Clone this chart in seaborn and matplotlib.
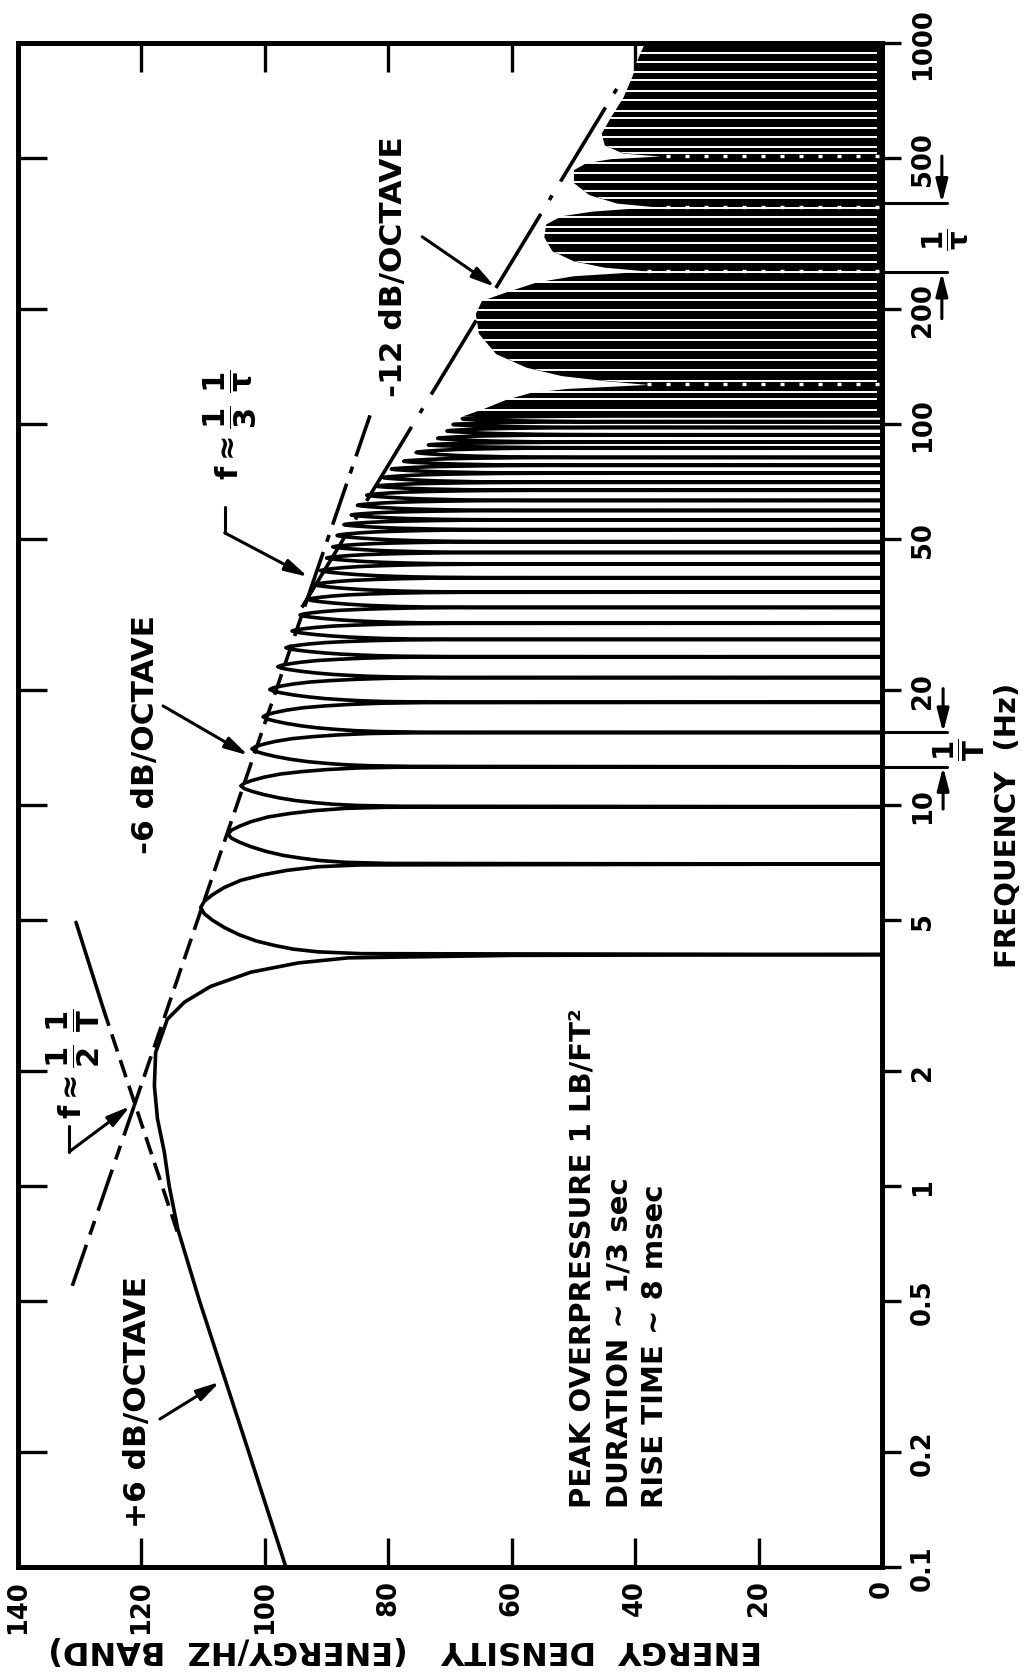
import numpy as np
import pandas as pd
import matplotlib
matplotlib.use("Agg")
import matplotlib.pyplot as plt
from matplotlib.ticker import NullLocator, FixedLocator
import seaborn as sns

# ----------------------------- data -----------------------------
freq_ticks = [0.1, 0.2, 0.5, 1, 2, 5, 10, 20, 50, 100, 200, 500, 1000]
freq_tick_labels = ["0.1", "0.2", "0.5", "1", "2", "5", "10", "20", "50", "100", "200", "500", "1000"]
energy_ticks = [0, 20, 40, 60, 80, 100, 120, 140]
energy_tick_labels = ["0", "20", "40", "60", "80", "100", "120", "140"]

# first (low-frequency) lobe of the spectrum
main_lobe_f = [0.1, 0.2, 0.5, 0.77, 1.0, 1.23, 1.5, 1.83, 2.24, 2.74, 3.04, 3.34, 3.64, 3.85, 3.97, 4.03, 4.05]
main_lobe_E = [96.6, 102.6, 110.6, 114.1, 115.5, 116.3, 117.4, 117.9, 117.7, 115.8, 113.0, 108.8, 102.3, 94.6, 86.5, 60.0, 0.0]

# nulls of the fine structure (Hz) and the level of each lobe between them
lobe_nulls_f = [4.05, 7.0, 9.9, 12.6, 15.5, 18.6, 21.6, 24.5, 27.2, 30.0, 33.0, 36.2, 39.5, 42.9,
                46.0, 49.1, 52.8, 56.0, 59.3, 63.0, 67.0, 70.3, 74.3, 77.9, 81.7, 86.6, 89.6,
                93.7, 97.9, 101.4, 105.0]
lobe_peaks_E = [110.4, 106.0, 103.9, 102.1, 100.3, 99.2, 97.9, 96.6, 95.6, 94.3, 93.0, 92.0, 91.0,
                90.0, 89.0, 88.3, 87.2, 86.0, 85.0, 83.5, 82.0, 80.8, 79.5, 77.5, 75.5, 73.5, 72.0,
                70.5, 69.5, 68.0]

# outline of one lobe: position between its nulls (fraction of log-width) and dB below its top
lobe_shape_frac = [0.0, 0.01, 0.03, 0.06, 0.1, 0.15, 0.22, 0.3, 0.38, 0.45, 0.52,
                   0.59, 0.66, 0.74, 0.82, 0.88, 0.93, 0.97, 0.99, 1.0]
lobe_shape_drop = [1e9, 26, 19, 15, 12, 9, 6.2, 3.8, 1.9, 0.6, 0,
                   0.6, 1.9, 3.8, 6.5, 10, 14, 19, 26, 1e9]

# high-frequency envelope (dense fine structure, modulated by the rise time)
hf_env_f = [105, 110, 116, 121, 124, 127, 130, 134, 141, 153, 173, 195, 211, 222, 236, 245, 252, 258,
            268, 285, 310, 335, 352, 362, 372, 380, 400, 430, 465, 485, 497, 505, 514, 540, 580, 640,
            720, 820, 920, 1000]
hf_env_E = [68, 64.5, 61, 57, 51, 38, 45, 52, 57.7, 62.6, 65.4, 65.9, 64.9, 61, 56, 50, 38, 45,
            50, 53.5, 54.8, 54.5, 52, 47, 37, 43, 47.5, 50, 50, 48, 44, 36, 42, 45, 45.5, 44,
            42, 40.5, 39.5, 38.5]
# visible white gaps inside the dense region (Hz)
hf_gap_f = [109, 116, 121, 130, 139, 147, 156, 166, 176, 187, 199, 211, 224, 236, 250, 266, 281, 298,
            317, 328, 349, 368, 391, 410, 431, 455, 483, 513, 532, 565, 597, 634, 665, 707, 750, 798,
            837, 889, 944]
# rise-time nulls (rows of white dots)
rise_null_f = [127, 252, 372, 505]
rise_null_E = [38, 38, 37, 36]

# asymptotes
pos6_dash_f = [0.76, 2.86]
pos6_dash_E = [114.2, 126.0]
pos6_solid_f = [2.86, 4.92]
pos6_solid_E = [126.0, 130.6]
neg6_lo_f = [0.547, 1.62]
neg6_lo_E = [131.2, 121.2]
neg6_mid_f = [1.62, 36.0]
neg6_mid_E = [121.2, 92.8]
neg6_hi_f = [36.0, 112.0]
neg6_hi_E = [92.8, 82.4]
neg12_f = [33.0, 790.0]
neg12_E = [94.0, 42.3]

# period markers on the frequency axis
period_T_f = [12.6, 15.5]
period_tau_f = [250.0, 380.0]

# ----------------------------- style -----------------------------
sns.set_theme(style="white", rc={"axes.edgecolor": "black", "text.color": "black",
                                 "xtick.color": "black", "ytick.color": "black",
                                 "axes.labelcolor": "black"})
plt.rcParams["font.family"] = ["DejaVu Sans"]
plt.rcParams["mathtext.fontset"] = "custom"
plt.rcParams["mathtext.rm"] = "DejaVu Sans:bold"
plt.rcParams["mathtext.it"] = "DejaVu Sans:bold"
plt.rcParams["mathtext.bf"] = "DejaVu Sans:bold"

W, H = 1026, 1674
fig = plt.figure(figsize=(W / 100, H / 100), dpi=100)
fig.patch.set_facecolor("white")
ax = fig.add_axes([18 / W, 1 - 1568 / H, 864 / W, 1524 / H])
ax.set_facecolor("white")
ax.set_yscale("log")
ax.set_xlim(140, 0)
ax.set_ylim(0.1, 1000)

LW = 2.6

# dense high-frequency region
hf = ax.fill_betweenx(hf_env_f, 0, hf_env_E, color="black", lw=0, zorder=2)
gaps = ax.hlines(hf_gap_f, 0.8, 140, colors="white", lw=1.4, zorder=3)
gaps.set_clip_path(hf.get_paths()[0], hf.get_transform())
ax.hlines(rise_null_f, 0.5, rise_null_E, colors="white", lw=2.4,
          linestyles=[(0, (1.2, 4.5))], zorder=3)

# spectrum with its fine structure
spec_f = list(main_lobe_f)
spec_E = list(main_lobe_E)
for lo, hi, pk in zip(lobe_nulls_f[:-1], lobe_nulls_f[1:], lobe_peaks_E):
    for fr, dr in zip(lobe_shape_frac, lobe_shape_drop):
        spec_f.append(lo * (hi / lo) ** fr)
        spec_E.append(max(pk - dr, 0.0))
spec_df = pd.DataFrame({"E": spec_E, "f": spec_f})
sns.lineplot(data=spec_df, x="E", y="f", sort=False, estimator=None, color="black",
             lw=LW, ax=ax, zorder=4)

# asymptote lines
def seg(fs, Es, ls, lw=LW):
    sns.lineplot(x=Es, y=fs, sort=False, estimator=None, color="black", lw=lw,
                 linestyle=ls, ax=ax, zorder=5)

seg(pos6_dash_f, pos6_dash_E, (0, (5, 2.5)))
seg(pos6_solid_f, pos6_solid_E, "-")
seg(neg6_lo_f, neg6_lo_E, (0, (12, 3, 4, 3)))
seg(neg6_mid_f, neg6_mid_E, (0, (6, 2.6)))
seg(neg6_hi_f, neg6_hi_E, (0, (12, 3, 2, 3)))
seg(neg12_f, neg12_E, (0, (24, 4.5, 1.5, 4.5)))

# ----------------------------- annotations -----------------------------
TXT = dict(fontweight="bold", color="black")
AP = dict(arrowstyle="-|>,head_length=0.7,head_width=0.18", lw=2.2, color="black",
          shrinkA=0, shrinkB=0, mutation_scale=20)

def arrow(tail, tip):
    ax.annotate("", xy=tip, xytext=tail, arrowprops=AP, annotation_clip=False)

ax.text(120.6, 0.273, "+6 dB/OCTAVE", rotation=90, ha="center", va="center", fontsize=22.5, **TXT)
arrow((117.0, 0.2446), (107.3, 0.306))

ax.text(119.4, 15.4, "-6 dB/OCTAVE", rotation=90, ha="center", va="center", fontsize=22.5, **TXT)
arrow((116.5, 18.2), (102.7, 13.5))

ax.text(79.2, 260, "-12 dB/OCTAVE", rotation=90, ha="center", va="center", fontsize=22.5, **TXT)
arrow((74.5, 310), (62.7, 229))

ax.text(105.6, 100, r"$f\approx\dfrac{1}{3}\ \dfrac{1}{\tau}$", rotation=90, ha="center",
        va="center", fontsize=22, **TXT)
ax.plot([106.5, 106.5], [60.6, 51.8], color="black", lw=2.2, zorder=6)
arrow((106.5, 51.8), (93.0, 39.7))

ax.text(131.1, 2.11, r"$f\approx\dfrac{1}{2}\ \dfrac{1}{T}$", rotation=90, ha="center",
        va="center", fontsize=22, **TXT)
ax.plot([131.7, 131.7], [1.44, 1.23], color="black", lw=2.2, zorder=6)
arrow((131.7, 1.23), (121.8, 1.62))

for e_pos, line in zip([48.6, 42.5, 36.8],
                       ["PEAK OVERPRESSURE 1 LB/FT²", "DURATION ~ 1/3 sec", "RISE TIME ~ 8 msec"]):
    ax.text(e_pos, 0.1437, line, rotation=90, ha="center", va="bottom", fontsize=21, **TXT)

# period markers to the right of the frequency axis
for fv in period_tau_f + period_T_f:
    ax.plot([0, -10.6], [fv, fv], color="black", lw=2.2, clip_on=False, zorder=6)
arrow((-9.7, 505), (-9.7, period_tau_f[1]))
arrow((-9.7, 189), (-9.7, period_tau_f[0]))
ax.text(-10.3, 306, r"$\dfrac{1}{\tau}$", rotation=90, ha="center", va="center", fontsize=21,
        clip_on=False, **TXT)
arrow((-9.9, 20.2), (-9.9, period_T_f[1]))
arrow((-9.9, 9.76), (-9.9, period_T_f[0]))
ax.text(-12.6, 14.0, r"$\dfrac{1}{T}$", rotation=90, ha="center", va="center", fontsize=21,
        clip_on=False, **TXT)

# ----------------------------- axes -----------------------------
for sp in ax.spines.values():
    sp.set_linewidth(3.6)
    sp.set_color("black")

ax.set_xticks(energy_ticks)
ax.set_xticklabels(energy_tick_labels, rotation=90, fontsize=18.5, fontweight="bold")
ax.tick_params(axis="x", which="major", direction="in", length=21, width=2.4,
               top=True, bottom=True, pad=9)
ax.yaxis.set_major_locator(FixedLocator(freq_ticks))
ax.yaxis.set_minor_locator(NullLocator())
ax.tick_params(axis="y", which="major", direction="in", length=21, width=2.4,
               left=True, right=False, labelleft=False)
ax.set_xlabel("")
ax.set_ylabel("")

sec = ax.secondary_yaxis("right")
sec.set_yticks(freq_ticks)
sec.set_yticklabels(freq_tick_labels, rotation=90, va="center", fontsize=18.5, fontweight="bold")
sec.yaxis.set_minor_locator(NullLocator())
sec.tick_params(axis="y", which="major", direction="out", length=14, width=2.4, pad=6)
sec.spines["right"].set_linewidth(3.6)

fig.text(1008 / W, 1 - 825 / H, "FREQUENCY  (Hz)", rotation=90, ha="center", va="center",
         fontsize=21, **TXT)
fig.text(405 / W, 1 - 1650 / H, "ENERGY  DENSITY   (ENERGY/HZ  BAND)", rotation=180,
         ha="center", va="center", fontsize=23, **TXT)

fig.savefig("out.png", dpi=100, facecolor="white")
